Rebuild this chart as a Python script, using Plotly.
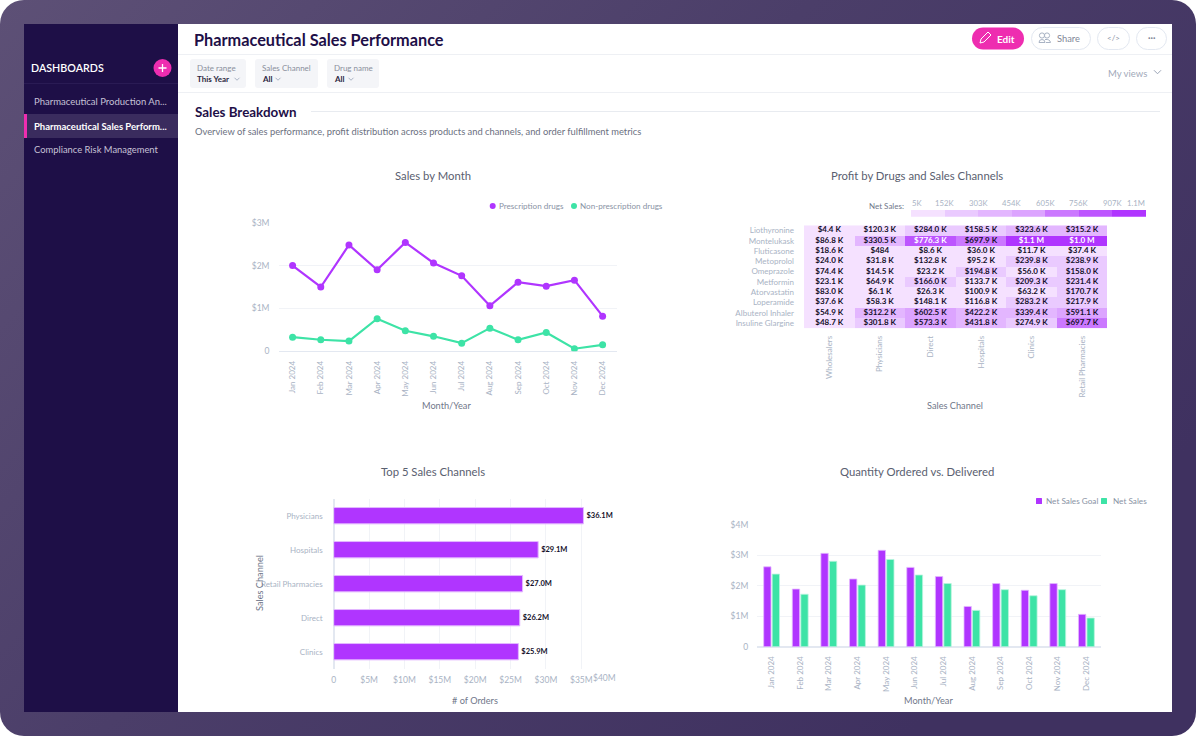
import base64
import plotly.graph_objects as go

W, H = 1196, 736
FONT = "Lato"
PURPLE = "#B035FF"
PURPLE_EDGE = "#E3B8FF"
GREEN = "#3DE3A6"
GREEN_EDGE = "#B8F4DE"
NAVY = "#1E0F47"
TITLE_C = "#5A6070"
TICK_C = "#A9B3C4"
GRID_C = "#F1F3F7"
ZERO_C = "#E3E8F1"

months = ["Jan 2024", "Feb 2024", "Mar 2024", "Apr 2024", "May 2024", "Jun 2024",
          "Jul 2024", "Aug 2024", "Sep 2024", "Oct 2024", "Nov 2024", "Dec 2024"]
prescription = [2.00, 1.50, 2.48, 1.90, 2.54, 2.06, 1.76, 1.06, 1.61, 1.52, 1.66, 0.82]
non_prescription = [0.33, 0.27, 0.24, 0.76, 0.48, 0.35, 0.19, 0.54, 0.27, 0.44, 0.06, 0.15]

channels = ["Wholesalers", "Physicians", "Direct", "Hospitals", "Clinics", "Retail Pharmacies"]
drugs = ["Liothyronine", "Montelukask", "Fluticasone", "Metoprolol", "Omeprazole",
         "Metformin", "Atorvastatin", "Loperamide", "Albuterol Inhaler", "Insuline Glargine"]
profit_k = [
    [4.4, 120.3, 284.0, 158.5, 323.6, 315.2],
    [86.8, 330.5, 776.3, 697.9, 1100.0, 1000.0],
    [18.6, 0.484, 8.6, 36.0, 11.7, 37.4],
    [24.0, 31.8, 132.8, 95.2, 239.8, 238.9],
    [74.4, 14.5, 23.2, 194.8, 56.0, 158.0],
    [23.1, 64.9, 166.0, 133.7, 209.3, 231.4],
    [83.0, 6.1, 26.3, 100.9, 63.2, 170.7],
    [37.6, 58.3, 148.1, 116.8, 283.2, 217.9],
    [54.9, 312.2, 602.5, 422.2, 339.4, 591.1],
    [48.7, 301.8, 573.3, 431.8, 274.9, 697.7],
]
profit_labels = [
    ["$4.4 K", "$120.3 K", "$284.0 K", "$158.5 K", "$323.6 K", "$315.2 K"],
    ["$86.8 K", "$330.5 K", "$776.3 K", "$697.9 K", "$1.1 M", "$1.0 M"],
    ["$18.6 K", "$484", "$8.6 K", "$36.0 K", "$11.7 K", "$37.4 K"],
    ["$24.0 K", "$31.8 K", "$132.8 K", "$95.2 K", "$239.8 K", "$238.9 K"],
    ["$74.4 K", "$14.5 K", "$23.2 K", "$194.8 K", "$56.0 K", "$158.0 K"],
    ["$23.1 K", "$64.9 K", "$166.0 K", "$133.7 K", "$209.3 K", "$231.4 K"],
    ["$83.0 K", "$6.1 K", "$26.3 K", "$100.9 K", "$63.2 K", "$170.7 K"],
    ["$37.6 K", "$58.3 K", "$148.1 K", "$116.8 K", "$283.2 K", "$217.9 K"],
    ["$54.9 K", "$312.2 K", "$602.5 K", "$422.2 K", "$339.4 K", "$591.1 K"],
    ["$48.7 K", "$301.8 K", "$573.3 K", "$431.8 K", "$274.9 K", "$697.7 K"],
]
bin_edges = [5, 152, 303, 454, 605, 756, 907, 1100]
bin_labels = ["5K", "152K", "303K", "454K", "605K", "756K", "907K", "1.1M"]
bin_colors = ["#F5E1FF", "#EACAFF", "#E3B6FF", "#DCA4FF", "#CB78FF", "#BD55FF", "#B035FF"]

top_channels = ["Physicians", "Hospitals", "Retail Pharmacies", "Direct", "Clinics"]
top_values = [35.3, 28.9, 26.7, 26.3, 26.1]
top_labels = ["$36.1M", "$29.1M", "$27.0M", "$26.2M", "$25.9M"]
top_ticks = [0, 5, 10, 15, 20, 25, 30, 35, 40]
top_ticktext = ["0", "$5M", "$10M", "$15M", "$20M", "$25M", "$30M", "$35M", ""]

net_goal = [2.62, 1.89, 3.06, 2.22, 3.16, 2.60, 2.30, 1.32, 2.07, 1.85, 2.07, 1.06]
net_sales = [2.38, 1.72, 2.80, 2.02, 2.86, 2.35, 2.07, 1.19, 1.87, 1.67, 1.87, 0.94]


def fx(x):
    return x / W


def fy(y):
    return 1 - y / H


def stepped(edges, colors):
    lo, hi = edges[0], edges[-1]
    out = []
    for i, c in enumerate(colors):
        out.append([(edges[i] - lo) / (hi - lo), c])
        out.append([(edges[i + 1] - lo) / (hi - lo), c])
    return out


def chip(x0, x1):
    return f'<rect x="{x0}" y="59" width="{x1-x0}" height="29" rx="3" fill="#F4F5F8"/>'


def chevron(x, y, s=2.5, c="#A9B3C4"):
    return f'<path d="M{x-s} {y-s/2} L{x} {y+s/2} L{x+s} {y-s/2}" fill="none" stroke="{c}" stroke-width="1"/>'


svg = f'''<svg xmlns="http://www.w3.org/2000/svg" width="{W}" height="{H}" viewBox="0 0 {W} {H}">
<defs><linearGradient id="g" x1="0" y1="0" x2="1" y2="0.6">
<stop offset="0" stop-color="#5D5076"/><stop offset="0.5" stop-color="#4B3E69"/><stop offset="1" stop-color="#3F3160"/>
</linearGradient></defs>
<rect x="0" y="0" width="{W}" height="{H}" rx="24" fill="url(#g)"/>
<rect x="178" y="24" width="994" height="688" fill="#FFFFFF"/>
<rect x="24" y="24" width="154" height="688" fill="{NAVY}"/>
<line x1="24" y1="83.5" x2="178" y2="83.5" stroke="#2A1B54"/>
<rect x="24" y="114" width="154" height="24" fill="#3A2C5E"/>
<rect x="24" y="114" width="3" height="24" fill="#EE2DB0"/>
<circle cx="162.5" cy="68" r="9" fill="#EE2DB0"/>
<path d="M158.5 68 H166.5 M162.5 64 V72" stroke="#FFFFFF" stroke-width="1.3"/>
<line x1="178" y1="54.5" x2="1172" y2="54.5" stroke="#EEF0F4"/>
<line x1="178" y1="92.5" x2="1172" y2="92.5" stroke="#EEF0F4"/>
<line x1="311" y1="111.5" x2="1160" y2="111.5" stroke="#E8EBF0"/>
{chip(190, 246)}{chip(255, 318)}{chip(327, 379)}
{chevron(237, 79)}{chevron(278, 79)}{chevron(351, 79)}{chevron(1157.5, 72, 3.5, "#9AA3B5")}
<rect x="972" y="27.5" width="52" height="22" rx="11" fill="#EE2DB0"/>
<path d="M980 43 L981 39 L988 32 L991 35 L984 42 Z" fill="none" stroke="#FFFFFF" stroke-width="1"/>
<rect x="1031.5" y="27.5" width="59" height="22" rx="11" fill="#FFFFFF" stroke="#E3E8F1"/>
<circle cx="1042" cy="35.5" r="2.6" fill="none" stroke="#A9B3C4"/>
<circle cx="1047" cy="35.5" r="2.6" fill="none" stroke="#A9B3C4"/>
<path d="M1039 42.5 Q1039 39.5 1042 39.5 Q1045 39.5 1045 42.5 Z M1045 39.5 Q1050 39 1050.5 42.5 H1046" fill="none" stroke="#A9B3C4"/>
<rect x="1097.5" y="27.5" width="32" height="22" rx="11" fill="#FFFFFF" stroke="#E3E8F1"/>
<rect x="1136.5" y="27.5" width="30" height="22" rx="11" fill="#FFFFFF" stroke="#E3E8F1"/>
<circle cx="492.7" cy="206" r="3" fill="{PURPLE}"/>
<circle cx="574" cy="206" r="3" fill="{GREEN}"/>
<rect x="1036" y="498" width="6" height="6" rx="0.5" fill="{PURPLE}"/>
<rect x="1101" y="498" width="6" height="6" rx="0.5" fill="{GREEN}"/>
</svg>'''
svg_uri = "data:image/svg+xml;base64," + base64.b64encode(svg.encode()).decode()

fig = go.Figure()

fig.add_trace(go.Scatter(x=months, y=prescription, mode="lines+markers", name="Prescription drugs",
                         showlegend=False, line=dict(color=PURPLE, width=2.2),
                         marker=dict(color=PURPLE, size=7), xaxis="x", yaxis="y"))
fig.add_trace(go.Scatter(x=months, y=non_prescription, mode="lines+markers", name="Non-prescription drugs",
                         showlegend=False, line=dict(color=GREEN, width=2.2),
                         marker=dict(color=GREEN, size=7), xaxis="x", yaxis="y"))

fig.add_trace(go.Heatmap(x=channels, y=drugs, z=profit_k, zmin=bin_edges[0], zmax=bin_edges[-1],
                         colorscale=stepped(bin_edges, bin_colors), showscale=False,
                         xaxis="x2", yaxis="y2", hoverinfo="skip"))
text_x, text_y, text_s, text_c = [], [], [], []
for r, d in enumerate(drugs):
    for c, ch in enumerate(channels):
        text_x.append(ch)
        text_y.append(d)
        text_s.append(profit_labels[r][c])
        text_c.append("#FFFFFF" if profit_k[r][c] >= bin_edges[5] else "#14102A")
fig.add_trace(go.Scatter(x=text_x, y=text_y, text=text_s, mode="text", showlegend=False,
                         textfont=dict(family=FONT, size=8, color=text_c, weight="bold"),
                         xaxis="x2", yaxis="y2", hoverinfo="skip"))
legend_index = list(range(len(bin_colors)))
fig.add_trace(go.Heatmap(x=legend_index, y=[0], z=[legend_index], zmin=-0.5, zmax=len(bin_colors) - 0.5,
                         colorscale=stepped([i - 0.5 for i in range(len(bin_colors) + 1)], bin_colors),
                         showscale=False, xaxis="x5", yaxis="y5", hoverinfo="skip"))

fig.add_trace(go.Bar(x=top_values, y=top_channels, orientation="h", text=top_labels, showlegend=False,
                     textposition="outside", cliponaxis=False,
                     textfont=dict(family=FONT, size=7.5, color="#14102A", weight="bold"),
                     marker=dict(color=PURPLE, line=dict(color=PURPLE_EDGE, width=1)),
                     width=0.48, xaxis="x3", yaxis="y3"))

fig.add_trace(go.Bar(x=months, y=net_goal, name="Net Sales Goal", showlegend=False,
                     marker=dict(color=PURPLE, line=dict(color=PURPLE_EDGE, width=0.8)),
                     xaxis="x4", yaxis="y4"))
fig.add_trace(go.Bar(x=months, y=net_sales, name="Net Sales", showlegend=False,
                     marker=dict(color=GREEN, line=dict(color=GREEN_EDGE, width=0.8)),
                     xaxis="x4", yaxis="y4"))

tickf = dict(family=FONT, size=8, color=TICK_C)
numf = dict(family=FONT, size=8.5, color=TICK_C)


def dom_x(a, b):
    return [fx(a), fx(b)]


def dom_y(top, bottom):
    return [fy(bottom), fy(top)]


layout = dict(
    width=W, height=H, autosize=False, margin=dict(l=0, r=0, t=0, b=0, pad=0, autoexpand=False),
    paper_bgcolor="#FFFFFF", plot_bgcolor="rgba(0,0,0,0)", showlegend=False,
    barmode="group", bargap=0.405, bargroupgap=0.14,
    font=dict(family=FONT, size=9, color=TICK_C),
    images=[dict(source=svg_uri, xref="paper", yref="paper", x=0, y=1, sizex=1, sizey=1,
                 sizing="stretch", xanchor="left", yanchor="top", layer="below")],
    xaxis=dict(domain=dom_x(278.5, 616.7), anchor="y", type="category", categoryorder="array",
               categoryarray=months, range=[-0.5, 11.5], tickangle=-90, tickfont=tickf,
               showgrid=False, showline=False, zeroline=False, ticks="", ticklabelstandoff=7),
    yaxis=dict(domain=dom_y(222.7, 351.3), anchor="x", range=[0, 3], tickvals=[0, 1, 2, 3],
               ticktext=["0", "$1M", "$2M", "$3M"], tickfont=numf, gridcolor=GRID_C,
               zeroline=True, zerolinecolor=ZERO_C, zerolinewidth=1, ticks="", ticklabelstandoff=8,
               showline=False),
    xaxis2=dict(domain=dom_x(804, 1107.3), anchor="y2", type="category", categoryorder="array",
                categoryarray=channels, tickangle=-90, tickfont=tickf, showgrid=False, tickmode="array",
                tickvals=channels, ticktext=channels, showline=False, zeroline=False, ticks="",
                ticklabelstandoff=5),
    yaxis2=dict(domain=dom_y(225.3, 328.2), anchor="x2", type="category", categoryorder="array",
                categoryarray=drugs, autorange="reversed", tickfont=tickf, showgrid=False, tickmode="array",
                tickvals=drugs, ticktext=drugs, showline=False, zeroline=False, ticks="",
                ticklabelstandoff=9),
    xaxis3=dict(domain=dom_x(333.7, 616.7), anchor="y3", range=[0, 40], tickvals=top_ticks,
                ticktext=top_ticktext, tickangle=0, tickfont=numf, gridcolor=GRID_C, zeroline=True,
                zerolinecolor=ZERO_C, ticks="", ticklabelstandoff=5, showline=False),
    yaxis3=dict(domain=dom_y(498.7, 668.7), anchor="x3", type="category", categoryorder="array",
                categoryarray=top_channels, autorange="reversed", tickfont=tickf, showgrid=False,
                zeroline=False, ticks="", ticklabelstandoff=10, showline=False),
    xaxis4=dict(domain=dom_x(757.3, 1100.7), anchor="y4", type="category", categoryorder="array",
                categoryarray=months, range=[-0.5, 11.5], tickangle=-90, tickfont=tickf, showgrid=False,
                showline=False, zeroline=False, ticks="", ticklabelstandoff=7),
    yaxis4=dict(domain=dom_y(524.7, 646.7), anchor="x4", range=[0, 4], tickvals=[0, 1, 2, 3, 4],
                ticktext=["0", "$1M", "$2M", "$3M", "$4M"], tickfont=numf, gridcolor=GRID_C,
                zeroline=True, zerolinecolor=ZERO_C, ticks="", ticklabelstandoff=8, showline=False),
    xaxis5=dict(domain=dom_x(911, 1146), anchor="y5", visible=False, range=[-0.5, 6.5]),
    yaxis5=dict(domain=dom_y(210, 216.7), anchor="x5", visible=False),
)


def note(text, x, y, size=10, color=TITLE_C, weight="normal", anchor="left", angle=0):
    return dict(text=text, x=fx(x), y=fy(y), xref="paper", yref="paper", showarrow=False,
                xanchor=anchor, yanchor="middle", textangle=angle, borderpad=0, borderwidth=0,
                font=dict(family=FONT, size=size, color=color, weight=weight))


annots = [
    note("DASHBOARDS", 31, 68, 10.7, "#FFFFFF", 600),
    note("Pharmaceutical Production An...", 34, 101.5, 9.5, "#C6C1D6"),
    note("Pharmaceutical Sales Perform...", 34, 126, 9.5, "#FFFFFF", "bold"),
    note("Compliance Risk Management", 34, 150, 9.4, "#C6C1D6"),
    note("Pharmaceutical Sales Performance", 194, 39.5, 16.3, NAVY, "bold"),
    note("Date range", 197, 68, 8, "#8A8F9C"),
    note("This Year", 197, 78.5, 8, "#2A2740", "bold"),
    note("Sales Channel", 262, 68, 8, "#8A8F9C"),
    note("All", 262, 78.5, 8, "#2A2740", "bold"),
    note("Drug name", 334, 68, 8, "#8A8F9C"),
    note("All", 334, 78.5, 8, "#2A2740", "bold"),
    note("Edit", 997, 39, 10, "#FFFFFF", "bold"),
    note("Share", 1057, 39, 9.3, "#7F8797"),
    note("&lt;/&gt;", 1113.5, 38, 8, "#8A93A5", anchor="center"),
    note("···", 1151.5, 38, 9, "#7F8797", "bold", anchor="center"),
    note("My views", 1108, 73, 9.5, "#A1A9B9"),
    note("Sales Breakdown", 195, 112, 13.4, NAVY, "bold"),
    note("Overview of sales performance, profit distribution across products and channels, and order fulfillment metrics",
         195, 131, 9.35, "#6B7080"),
    note("Sales by Month", 433, 176, 11.3, anchor="center"),
    note("Profit by Drugs and Sales Channels", 917, 176, 11.3, anchor="center"),
    note("Top 5 Sales Channels", 433, 471, 11.3, anchor="center"),
    note("Quantity Ordered vs. Delivered", 917, 471, 11.3, anchor="center"),
    note("Month/Year", 447, 405, 9.2, "#70778A", anchor="center"),
    note("Sales Channel", 955, 405, 9.2, "#70778A", anchor="center"),
    note("# of Orders", 475, 700, 9.2, "#70778A", anchor="center"),
    note("Month/Year", 928, 700.5, 9.2, "#70778A", anchor="center"),
    note("Sales Channel", 259, 583, 9.2, "#70778A", anchor="center", angle=-90),
    note("Net Sales:", 904, 206, 8, "#70778A", anchor="right"),
    note("Prescription drugs", 499, 206, 8.1, "#8A93A5"),
    note("Non-prescription drugs", 580, 206, 8.1, "#8A93A5"),
    note("Net Sales Goal", 1046, 501, 8.2, "#8A93A5"),
    note("Net Sales", 1113, 501, 8.2, "#8A93A5"),
    dict(text="$40M", x=40, xref="x3", y=fy(678), yref="paper", showarrow=False, xanchor="right",
         yanchor="middle", borderpad=0, font=numf),
]
for i, lab in enumerate(bin_labels):
    anchor = "left" if i == 0 else ("right" if i == len(bin_labels) - 1 else "center")
    annots.append(dict(text=lab, x=i - 0.5, xref="x5", y=fy(203), yref="paper", showarrow=False,
                       xanchor=anchor, yanchor="middle", borderpad=0,
                       font=dict(family=FONT, size=7.7, color=TICK_C)))
layout["annotations"] = annots

fig.update_layout(**layout)
fig.write_html("out.html", config=dict(displayModeBar=False),
               post_script="document.body.style.margin='0';document.documentElement.style.overflow='hidden';")
